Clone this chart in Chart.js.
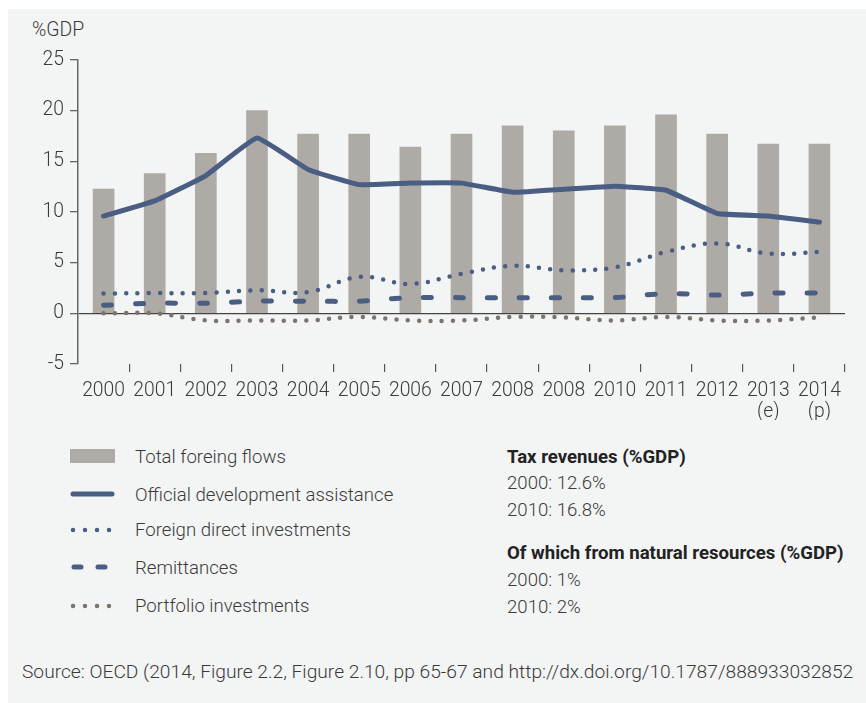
<!DOCTYPE html>
<html>
<head>
<meta charset="utf-8">
<script src="https://cdn.jsdelivr.net/npm/chart.js@4/dist/chart.umd.min.js"></script>
<style>
  html, body { margin: 0; padding: 0; background: #ffffff; }
  body { width: 866px; height: 703px; position: relative; overflow: hidden;
         font-family: Roboto, "Noto Sans", sans-serif; font-weight: 300; color: #3a3a3a; }
  #panel { position: absolute; left: 8px; top: 9px; right: 0; bottom: 0; background: #f3f4f4; }
  #chartBox { position: absolute; left: 0; top: 0; width: 866px; height: 420px; }
  .txt { position: absolute; font-size: 18.6px; white-space: nowrap; line-height: 20px; }
  .bold { font-weight: 700; color: #222; font-size: 18.6px; }
  .sym { position: absolute; left: 68px; }
</style>
</head>
<body>
<div id="panel"></div>
<div class="txt" style="left:32px; top:20px; font-size:19.4px;">%GDP</div>
<div id="chartBox"><canvas id="flowChart"></canvas></div>

<!-- legend -->
<svg class="sym" style="top:447px" width="50" height="18"><rect x="2" y="2" width="45" height="14" fill="#aeaaa6"/></svg>
<svg class="sym" style="top:485px" width="50" height="18"><line x1="5" y1="9" x2="44" y2="9" stroke="#4a5d82" stroke-width="5" stroke-linecap="round"/></svg>
<svg class="sym" style="top:521px" width="50" height="18"><line x1="5" y1="9" x2="44" y2="9" stroke="#4a5d82" stroke-width="4.5" stroke-linecap="round" stroke-dasharray="0 12"/></svg>
<svg class="sym" style="top:558px" width="50" height="18"><line x1="6" y1="9" x2="42" y2="9" stroke="#4a5d82" stroke-width="5" stroke-linecap="round" stroke-dasharray="7 17"/></svg>
<svg class="sym" style="top:597px" width="50" height="18"><line x1="5" y1="9" x2="44" y2="9" stroke="#7a736e" stroke-width="4.5" stroke-linecap="round" stroke-dasharray="0 12"/></svg>
<div class="txt" style="left:135px; top:447px;">Total foreing flows</div>
<div class="txt" style="left:135px; top:485px;">Official development assistance</div>
<div class="txt" style="left:135px; top:520px;">Foreign direct investments</div>
<div class="txt" style="left:135px; top:558px;">Remittances</div>
<div class="txt" style="left:135px; top:596px;">Portfolio investments</div>

<div class="txt bold" style="left:507px; top:447px;">Tax revenues (%GDP)</div>
<div class="txt" style="left:507px; top:473px;">2000: 12.6%</div>
<div class="txt" style="left:507px; top:500px;">2010: 16.8%</div>
<div class="txt bold" style="left:507px; top:543px;">Of which from natural resources (%GDP)</div>
<div class="txt" style="left:507px; top:570px;">2000: 1%</div>
<div class="txt" style="left:507px; top:597px;">2010: 2%</div>

<div class="txt" style="left:22px; top:662px; font-size:19.2px;">Source: OECD (2014, Figure 2.2, Figure 2.10, pp 65-67 and http://dx.doi.org/10.1787/888933032852</div>

<script>
const years = [["2000"], ["2001"], ["2002"], ["2003"], ["2004"], ["2005"], ["2006"], ["2007"],
               ["2008"], ["2008"], ["2010"], ["2011"], ["2012"], ["2013", "(e)"], ["2014", "(p)"]];
const totalFlows = [12.25, 13.8, 15.8, 20.0, 17.7, 17.7, 16.4, 17.7, 18.5, 18.0, 18.5, 19.6, 17.7, 16.7, 16.7];
const officialAid = [9.6, 11.1, 13.6, 17.3, 14.2, 12.7, 12.85, 12.85, 11.95, 12.25, 12.55, 12.15, 9.85, 9.6, 9.0];
const foreignDirect = [1.95, 2.0, 2.0, 2.27, 2.1, 3.6, 2.9, 3.9, 4.7, 4.25, 4.55, 6.05, 6.9, 5.9, 6.05];
const remittances = [0.8, 1.0, 1.0, 1.2, 1.2, 1.2, 1.55, 1.55, 1.55, 1.55, 1.55, 1.95, 1.8, 2.0, 2.0];
const portfolio = [0, 0, -0.7, -0.7, -0.7, -0.35, -0.7, -0.7, -0.35, -0.4, -0.7, -0.35, -0.7, -0.7, -0.4];
const yTicks = [-5, 0, 5, 10, 15, 20, 25];

const blue = "#4a5d82";
const grey = "#7a736e";
const tickFont = { family: "Roboto", size: 19.3, weight: 300, lineHeight: 1.12 };

const ctx = document.getElementById("flowChart").getContext("2d");
new Chart(ctx, {
    type: "bar",
    data: {
        labels: years,
        datasets: [
            { type: "line", data: officialAid, borderColor: blue, borderWidth: 5,
              tension: 0.1, pointRadius: 0, borderCapStyle: "round", borderJoinStyle: "round", order: 1 },
            { type: "line", data: foreignDirect, borderColor: blue, borderWidth: 4.5,
              borderDash: [0, 11.3], borderCapStyle: "round", tension: 0.4, pointRadius: 0, order: 2 },
            { type: "line", data: remittances, borderColor: blue, borderWidth: 5,
              borderDash: [8, 24], borderCapStyle: "round", tension: 0.3, pointRadius: 0, order: 3 },
            { type: "line", data: portfolio, borderColor: grey, borderWidth: 4.5,
              borderDash: [0, 11.3], borderCapStyle: "round", tension: 0.4, pointRadius: 0, order: 4 },
            { type: "bar", data: totalFlows, backgroundColor: "#aeaaa6", barThickness: 21, order: 5 }
        ]
    },
    options: {
        responsive: true,
        maintainAspectRatio: false,
        animation: false,
        layout: { padding: { top: 60, right: 21, left: 0, bottom: 0 } },
        plugins: { legend: { display: false }, tooltip: { enabled: false } },
        scales: {
            x: {
                offset: true,
                border: { display: false },
                grid: {
                    offset: true,
                    drawOnChartArea: false,
                    tickLength: 8,
                    tickColor: (c) => (c.index === 0 || c.index === years.length) ? "transparent" : "#555",
                    lineWidth: 1.2
                },
                ticks: { font: tickFont, color: "#3a3a3a", padding: 8, maxRotation: 0, autoSkip: false },
                afterFit: (scale) => { scale.height = 56; }
            },
            y: {
                min: -5,
                max: 25,
                afterBuildTicks: (scale) => { scale.ticks = yTicks.map(v => ({ value: v })); },
                border: { display: true, color: "#666", width: 1.5 },
                grid: {
                    color: (c) => c.tick && c.tick.value === 0 ? "#444" : "transparent",
                    lineWidth: 1.3,
                    tickColor: "#666",
                    tickLength: 8
                },
                ticks: { font: tickFont, color: "#3a3a3a", padding: 6 },
                afterFit: (scale) => { scale.width = 78; }
            }
        }
    }
});
</script>
</body>
</html>
